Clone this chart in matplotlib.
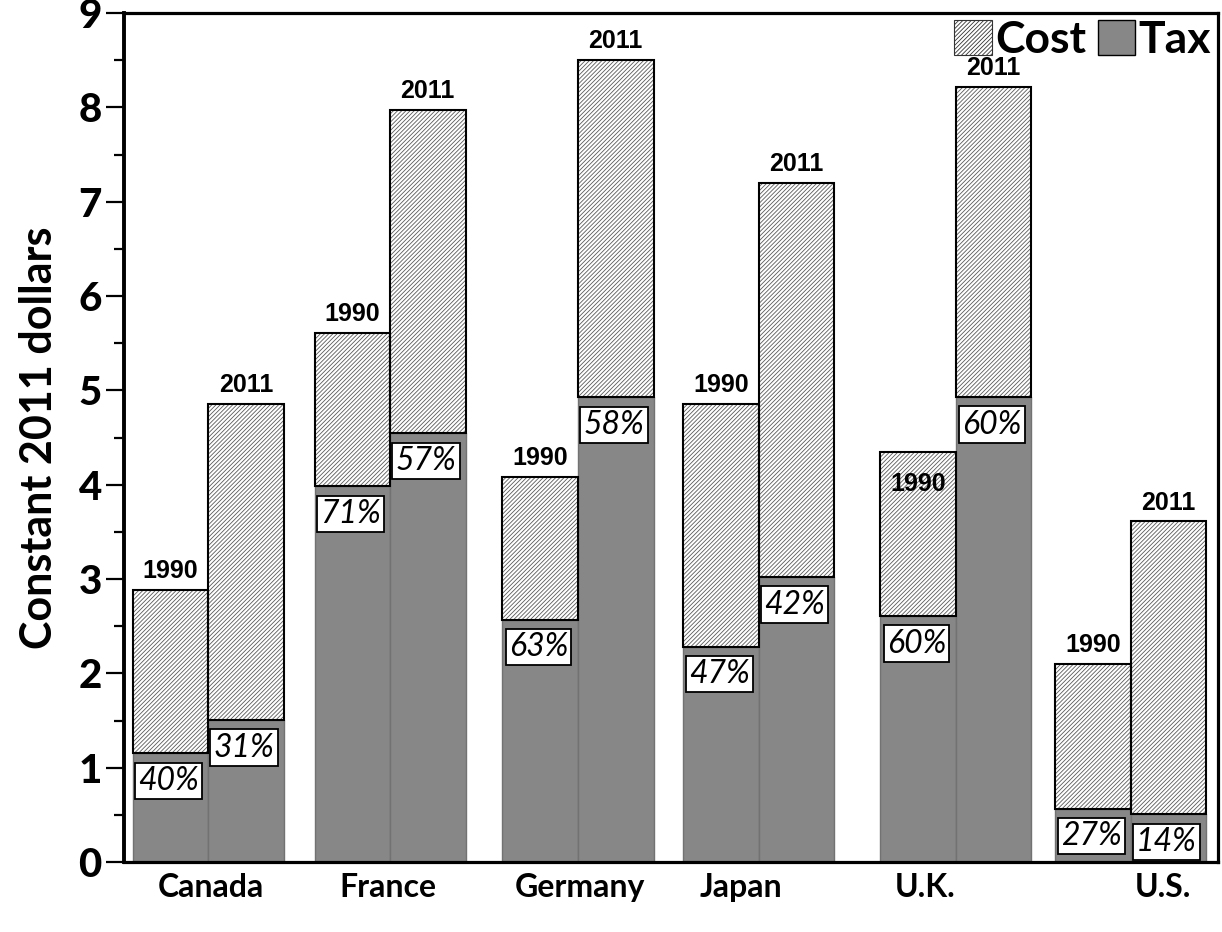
import numpy as np
import matplotlib.pyplot as plt
from matplotlib.patches import Patch
from matplotlib.ticker import MultipleLocator

# price per unit, constant 2011 dollars, split into tax and cost
countries = ['Canada', 'France', 'Germany', 'Japan', 'U.K.', 'U.S.']
years = ['1990', '2011']
total_1990 = [2.88, 5.61, 4.08, 4.86, 4.35, 2.10]
total_2011 = [4.86, 7.97, 8.50, 7.20, 8.22, 3.61]
tax_pct_1990 = [40, 71, 63, 47, 60, 27]
tax_pct_2011 = [31, 57, 58, 42, 60, 14]

# layout
group_x = [0.0, 1.0, 2.033, 3.027, 4.11, 5.07]
label_x = [0.015, 0.989, 2.044, 2.93, 3.94, 5.25]
width = 0.415

grey = '#878787'
hatch_col = '#5a5a5a'
plt.rcParams['hatch.linewidth'] = 0.6

fig = plt.figure(figsize=(12.22, 9.32), dpi=100)
ax = fig.add_axes([124 / 1222, 70 / 932, (1218 - 124) / 1222, (862 - 13) / 932])

for k, (totals, pcts) in enumerate([(total_1990, tax_pct_1990), (total_2011, tax_pct_2011)]):
    xs = np.array(group_x) + (k - 0.5) * width
    totals = np.array(totals)
    tax = totals * np.array(pcts) / 100.0
    cost = totals - tax
    ax.bar(xs, tax, width, color=grey, edgecolor='#727272', linewidth=1.0, zorder=2)
    ax.bar(xs, cost, width, bottom=tax, facecolor='white', edgecolor=hatch_col,
           hatch='////////', linewidth=0, zorder=2)
    ax.bar(xs, cost, width, bottom=tax, fill=False, edgecolor='black',
           linewidth=1.5, zorder=3)
    for i, x in enumerate(xs):
        # U.K. 1990 year label sits inside the bar
        if k == 0 and countries[i] == 'U.K.':
            ax.annotate(years[k], (x, totals[i]), xytext=(0, -15), textcoords='offset points',
                        ha='center', va='top', fontsize=18, fontweight='bold',
                        family='Liberation Sans', zorder=5)
        else:
            ax.annotate(years[k], (x, totals[i]), xytext=(0, 5), textcoords='offset points',
                        ha='center', va='bottom', fontsize=18, fontweight='bold',
                        family='Liberation Sans', zorder=5)
        ax.annotate(f'{pcts[i]}%', (x - 0.01, tax[i]), xytext=(0, -20), textcoords='offset points',
                    ha='center', va='center', fontsize=23, style='italic', family='Lato',
                    bbox=dict(boxstyle='square,pad=0.1', fc='white', ec='black', lw=1.3),
                    zorder=5)

ax.set_xlim(-0.462, 5.55)
ax.set_ylim(0, 9)
ax.yaxis.set_major_locator(MultipleLocator(1))
ax.yaxis.set_minor_locator(MultipleLocator(0.5))
ax.tick_params(axis='y', which='major', length=13, width=1.6, pad=3)
ax.tick_params(axis='y', which='minor', length=7, width=1.6)
for lab in ax.get_yticklabels():
    lab.set_fontfamily('Lato')
    lab.set_fontweight('black')
    lab.set_fontsize(29)

ax.set_xticks(label_x)
ax.set_xticklabels(countries, fontfamily='Lato', fontweight='bold', fontsize=23)
ax.tick_params(axis='x', length=0, pad=8)

for s in ax.spines.values():
    s.set_linewidth(2.3)
ax.spines['left'].set_linewidth(2.8)

ax.set_ylabel('Constant 2011 dollars', fontfamily='Lato', fontweight='bold', fontsize=31, labelpad=14)

handles = [Patch(facecolor='white', edgecolor='#333333', hatch='////////', linewidth=0.8, label='Cost'),
           Patch(facecolor=grey, edgecolor='black', linewidth=1.0, label='Tax')]
ax.legend(handles=handles, loc='upper right', frameon=False, handlelength=0.85, handleheight=0.85,
          handletextpad=0.08, columnspacing=0.25, ncol=2, borderaxespad=0.05, borderpad=0.1,
          prop={'family': 'Lato', 'weight': 'bold', 'size': 32})

fig.savefig('out.png', dpi=100)
